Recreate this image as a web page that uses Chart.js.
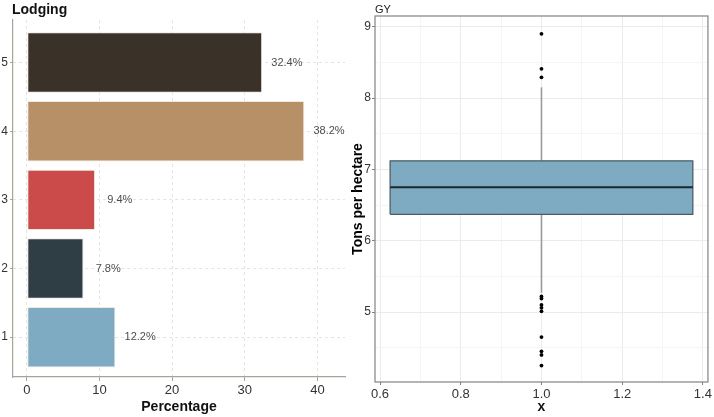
<!DOCTYPE html>
<html>
<head>
<meta charset="utf-8">
<script src="https://cdn.jsdelivr.net/npm/chart.js@4.4.1/dist/chart.umd.min.js"></script>
<style>
    body { margin: 0; background: #fff; width: 714px; height: 417px; position: relative; overflow: hidden; }
    .panel { position: absolute; top: 0; height: 417px; }
    #leftPanel { left: 0; width: 350px; }
    #rightPanel { left: 350px; width: 364px; }
    .ttl { position: absolute; top: 1px; color: #111; font-family: 'Liberation Sans Narrow', 'Liberation Sans', Arial, sans-serif; }
    #ttlLodging { left: 12px; font-size: 14px; font-weight: bold; }
    #ttlGY { left: 375px; top: 3px; font-size: 11px; color: #222; }
</style>
</head>
<body>
<div class="panel" id="leftPanel"><canvas id="lodging" width="350" height="417"></canvas></div>
<div class="panel" id="rightPanel"><canvas id="gy" width="364" height="417"></canvas></div>
<div class="ttl" id="ttlLodging">Lodging</div>
<div class="ttl" id="ttlGY">GY</div>
<script>
// --- Dati ---
const LODGING_CLASSES = [1, 2, 3, 4, 5];
const LODGING_PCT = [12.2, 7.8, 9.4, 38.2, 32.4];
const LODGING_COLORS = ['#7eabc2', '#2f3d45', '#cb4a4a', '#b89068', '#3a3128'];
const PCT_TICKS = [0, 10, 20, 30, 40];

// boxplot GY: whisker basso, Q1, mediana, Q3, whisker alto
const GY_STATS = [5.27, 6.37, 6.75, 7.12, 8.15];
const GY_OUTLIERS = [8.90, 8.41, 8.29, 5.22, 5.19, 5.10, 5.06, 5.01, 4.65, 4.45, 4.40, 4.25];
const GY_BOX_X = [0.625, 1.0, 1.375]; // bordo sinistro, centro, bordo destro
const GY_Y_TICKS = [5, 6, 7, 8, 9];
const GY_X_TICKS = [0.6, 0.8, 1.0, 1.2, 1.4];

const NARROW = "'Liberation Sans Narrow', 'Liberation Sans', Arial, sans-serif";
const WIDE = "'Liberation Sans', Arial, sans-serif";
const LABEL_NUDGE = 3.4; // distanza etichetta % dalla fine della barra

Chart.defaults.font.family = NARROW;
Chart.defaults.color = '#3a3a3a';

// etichette percentuali accanto alle barre
const barLabels = {
    id: 'barLabels',
    afterDatasetsDraw(chart) {
        const { ctx, scales: { x, y } } = chart;
        ctx.save();
        ctx.font = '11px ' + NARROW;
        ctx.fillStyle = '#4d4d4d';
        ctx.textAlign = 'center';
        ctx.textBaseline = 'middle';
        LODGING_CLASSES.forEach((c, i) => {
            ctx.fillText(LODGING_PCT[i].toFixed(1) + '%',
                x.getPixelForValue(LODGING_PCT[i] + LABEL_NUDGE), y.getPixelForValue(c));
        });
        ctx.restore();
    }
};

// cornice del pannello (theme_bw)
const panelBorder = {
    id: 'panelBorder',
    afterDraw(chart) {
        const { ctx, chartArea: a } = chart;
        ctx.save();
        ctx.strokeStyle = '#8c8c8c';
        ctx.lineWidth = 1.3;
        ctx.strokeRect(a.left, a.top, a.right - a.left, a.bottom - a.top);
        ctx.restore();
    }
};

// --- Grafico a barre orizzontali: Lodging ---
const axisCol = '#a8a29b';
new Chart(document.getElementById('lodging'), {
    type: 'bar',
    data: {
        datasets: [{
            data: LODGING_CLASSES.map((c, i) => ({ x: LODGING_PCT[i], y: c })),
            backgroundColor: LODGING_COLORS,
            borderColor: '#efe9e2',
            borderWidth: 1,
            borderSkipped: false,
            barPercentage: 0.88,
            categoryPercentage: 1
        }]
    },
    options: {
        indexAxis: 'y',
        responsive: false,
        animation: false,
        layout: { padding: { top: 20, right: 5, left: 0, bottom: 0 } },
        plugins: { legend: { display: false }, tooltip: { enabled: false } },
        scales: {
            x: {
                type: 'linear', min: -1.9, max: 43.8,
                afterBuildTicks: s => { s.ticks = PCT_TICKS.map(v => ({ value: v })); },
                afterFit: s => { s.height = 40; },
                grid: { color: '#e4e4e4', tickColor: axisCol, tickLength: 4 },
                border: { display: true, color: axisCol, width: 1.2, dash: [3, 3] },
                ticks: { font: { size: 13 }, padding: 2, color: '#333' },
                title: { display: true, text: 'Percentage', color: '#111',
                    font: { size: 14, weight: 'bold' }, padding: { top: 0, bottom: 1 } }
            },
            y: {
                type: 'linear', min: 0.42, max: 5.62,
                offset: false,
                afterBuildTicks: s => { s.ticks = LODGING_CLASSES.map(v => ({ value: v })); },
                afterFit: s => { s.width = 13; },
                grid: { offset: false, color: '#e4e4e4', tickColor: axisCol, tickLength: 3 },
                border: { display: true, color: axisCol, width: 1.2, dash: [3, 3] },
                ticks: { font: { size: 12 }, padding: 2, color: '#333' }
            }
        }
    },
    plugins: [barLabels]
});

// --- Boxplot: GY ---
const [wLo, q1, med, q3, wHi] = GY_STATS;
const [bxL, bxC, bxR] = GY_BOX_X;
const halfSteps = arr => {
    const out = [];
    arr.forEach((v, i) => { out.push(v); if (i < arr.length - 1) out.push((v + arr[i + 1]) / 2); });
    return out;
};
const gyYGrid = [GY_Y_TICKS[0] - 0.5].concat(halfSteps(GY_Y_TICKS));
const gyXGrid = halfSteps(GY_X_TICKS);
const isMajor = (list, v) => list.some(t => Math.abs(t - v) < 1e-6);

new Chart(document.getElementById('gy'), {
    type: 'scatter',
    data: {
        datasets: [
            { // outlier
                data: GY_OUTLIERS.map(v => ({ x: bxC, y: v })),
                backgroundColor: '#000', borderColor: '#000', pointRadius: 1.9, borderWidth: 0
            },
            { // mediana
                data: [{ x: bxL, y: med }, { x: bxR, y: med }],
                showLine: true, borderColor: '#1b272d', borderWidth: 2, pointRadius: 0
            },
            { // contorno scatola
                data: [{ x: bxL, y: q1 }, { x: bxR, y: q1 }, { x: bxR, y: q3 }, { x: bxL, y: q3 }, { x: bxL, y: q1 }],
                showLine: true, borderColor: '#4b5c66', borderWidth: 1.3, pointRadius: 0
            },
            { // riempimento scatola
                data: [{ x: bxL, y: q3 }, { x: bxR, y: q3 }],
                showLine: true, borderWidth: 0, pointRadius: 0,
                fill: { value: q1 }, backgroundColor: '#7eabc2'
            },
            { // whisker alto
                data: [{ x: bxC, y: q3 }, { x: bxC, y: wHi }],
                showLine: true, borderColor: '#9a9a9a', borderWidth: 1.6, pointRadius: 0
            },
            { // whisker basso
                data: [{ x: bxC, y: q1 }, { x: bxC, y: wLo }],
                showLine: true, borderColor: '#9a9a9a', borderWidth: 1.6, pointRadius: 0
            }
        ]
    },
    options: {
        responsive: false,
        animation: false,
        layout: { padding: { top: 16, right: 2, left: 0, bottom: 0 } },
        plugins: { legend: { display: false }, tooltip: { enabled: false } },
        scales: {
            x: {
                type: 'linear', min: 0.5875, max: 1.4125,
                afterBuildTicks: s => { s.ticks = gyXGrid.map(v => ({ value: v })); },
                afterFit: s => { s.height = 35; },
                grid: {
                    color: c => isMajor(GY_X_TICKS, c.tick.value) ? '#ebebeb' : '#f5f5f5',
                    tickColor: c => isMajor(GY_X_TICKS, c.tick.value) ? '#7f7f7f' : 'rgba(0,0,0,0)',
                    tickLength: 3
                },
                border: { display: false },
                ticks: {
                    autoSkip: false, maxRotation: 0, font: { size: 13 }, padding: 2, color: '#333',
                    callback: v => isMajor(GY_X_TICKS, v) ? v.toFixed(1) : ''
                },
                title: { display: true, text: 'x', color: '#111',
                    font: { size: 14, weight: 'bold' }, padding: { top: 0, bottom: 1 } }
            },
            y: {
                type: 'linear', min: 4.02, max: 9.15,
                afterBuildTicks: s => { s.ticks = gyYGrid.map(v => ({ value: v })); },
                afterFit: s => { s.width = 25; },
                grid: {
                    color: c => isMajor(GY_Y_TICKS, c.tick.value) ? '#ebebeb' : '#f5f5f5',
                    tickColor: c => isMajor(GY_Y_TICKS, c.tick.value) ? '#7f7f7f' : 'rgba(0,0,0,0)',
                    tickLength: 3
                },
                border: { display: false },
                ticks: {
                    autoSkip: false, font: { size: 12 }, padding: 1, color: '#333',
                    callback: v => isMajor(GY_Y_TICKS, v) ? String(v) : ''
                },
                title: { display: true, text: 'Tons per hectare', color: '#000',
                    font: { size: 14, weight: 'bold', family: WIDE }, padding: { top: 0, bottom: 0 } }
            }
        }
    },
    plugins: [panelBorder]
});
</script>
</body>
</html>
